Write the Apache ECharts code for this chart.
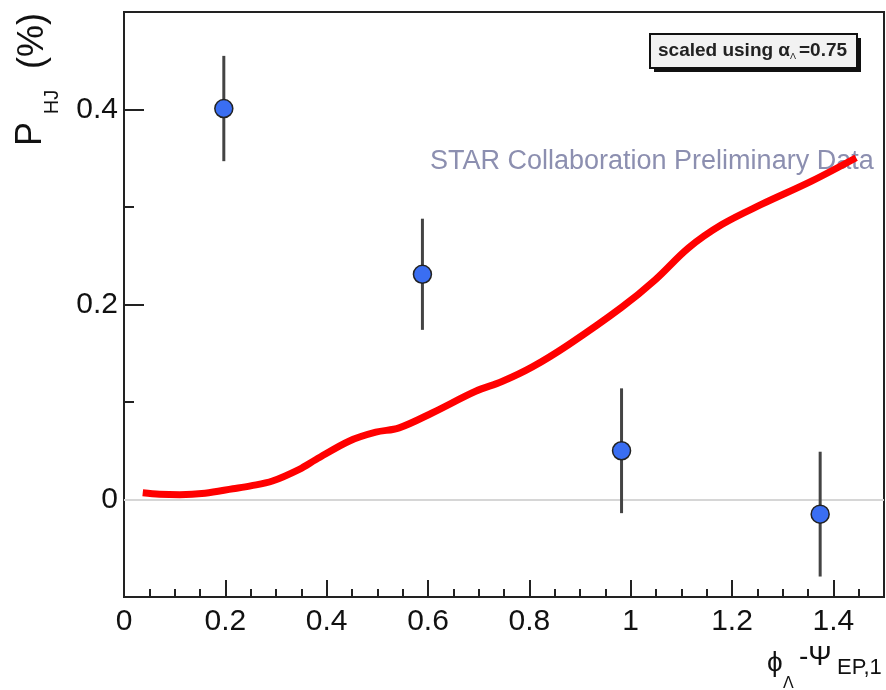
<!DOCTYPE html>
<html>
<head>
<meta charset="utf-8">
<script src="https://cdn.jsdelivr.net/npm/echarts@6/dist/echarts.min.js"></script>
<style>
  html, body { margin: 0; padding: 0; background: #fff; }
  #main { width: 886px; height: 690px; }
</style>
</head>
<body>
<div id="main"></div>
<script>
// measured points (x, P, error)
var ptX = [0.197, 0.589, 0.982, 1.374];
var ptY = [0.401, 0.231, 0.050, -0.015];
var ptErr = [0.054, 0.057, 0.064, 0.064];

// model curve
var curveX = [0.037, 0.07, 0.11, 0.16, 0.215, 0.25, 0.293, 0.346, 0.379, 0.445, 0.497, 0.543, 0.609, 0.694, 0.746, 0.806, 0.878, 0.982, 1.049, 1.114, 1.18, 1.258, 1.357, 1.445];
var curveY = [0.007, 0.0055, 0.005, 0.0065, 0.011, 0.014, 0.019, 0.031, 0.041, 0.060, 0.069, 0.0735, 0.089, 0.111, 0.121, 0.136, 0.159, 0.197, 0.2256, 0.258, 0.282, 0.3026, 0.3265, 0.3505];

// tick labels
var xLabels = [0, 0.2, 0.4, 0.6, 0.8, 1, 1.2, 1.4];
var yLabels = [0, 0.2, 0.4];
var yMinor = [0.1, 0.3];

var font = 'Liberation Sans, Arial, sans-serif';

var pointData = ptX.map(function (x, i) { return [x, ptY[i]]; });
var errData = ptX.map(function (x, i) { return [x, ptY[i], ptErr[i]]; });
var curveData = curveX.map(function (x, i) { return [x, curveY[i]]; });

var chart = echarts.init(document.getElementById('main'));

var option = {
  animation: false,
  backgroundColor: '#fff',
  grid: {
    left: 124,
    right: 2,
    top: 12,
    bottom: 93,
    show: true,
    borderColor: '#222',
    borderWidth: 2
  },
  xAxis: [
    {
      type: 'value',
      min: 0,
      max: 1.5,
      interval: 0.05,
      position: 'bottom',
      axisLine: { show: true, onZero: false, lineStyle: { color: '#222', width: 2 } },
      axisTick: { show: true, inside: true, length: 8, lineStyle: { color: '#222', width: 2 } },
      axisLabel: {
        customValues: xLabels,
        color: '#111',
        fontSize: 30,
        fontFamily: font,
        margin: 10
      },
      splitLine: { show: false }
    },
    {
      type: 'value',
      min: 0,
      max: 1.5,
      position: 'bottom',
      axisLine: { show: false, onZero: false },
      axisTick: { show: true, inside: true, length: 17, customValues: xLabels, lineStyle: { color: '#222', width: 2 } },
      axisLabel: { show: false },
      splitLine: { show: false }
    }
  ],
  yAxis: [
    {
      type: 'value',
      min: -0.1,
      max: 0.5,
      position: 'left',
      axisLine: { show: true, onZero: false, lineStyle: { color: '#222', width: 2 } },
      axisTick: { show: true, inside: true, length: 20, customValues: yLabels, lineStyle: { color: '#222', width: 2 } },
      axisLabel: {
        customValues: yLabels,
        color: '#111',
        fontSize: 30,
        fontFamily: font,
        margin: 6
      },
      splitLine: { show: false }
    },
    {
      type: 'value',
      min: -0.1,
      max: 0.5,
      position: 'left',
      axisLine: { show: false, onZero: false },
      axisTick: { show: true, inside: true, length: 10, customValues: yMinor, lineStyle: { color: '#222', width: 2 } },
      axisLabel: { show: false },
      splitLine: { show: false }
    }
  ],
  series: [
    {
      name: 'curve',
      type: 'line',
      data: curveData,
      smooth: 0.35,
      showSymbol: false,
      z: 3,
      lineStyle: { color: '#ff0000', width: 7 },
      markLine: {
        silent: true,
        symbol: 'none',
        label: { show: false },
        z: 1,
        lineStyle: { color: '#d6d6d6', width: 2, type: 'solid' },
        data: [{ yAxis: 0 }]
      }
    },
    {
      name: 'errors',
      type: 'custom',
      data: errData,
      encode: { x: 0, y: 1 },
      z: 4,
      renderItem: function (params, api) {
        var x = api.value(0), y = api.value(1), e = api.value(2);
        var p1 = api.coord([x, y + e]);
        var p2 = api.coord([x, y - e]);
        return {
          type: 'line',
          shape: { x1: p1[0], y1: p1[1], x2: p2[0], y2: p2[1] },
          style: { stroke: '#444', lineWidth: 3 }
        };
      }
    },
    {
      name: 'data',
      type: 'scatter',
      data: pointData,
      symbol: 'circle',
      symbolSize: 18,
      z: 5,
      itemStyle: { color: '#3a6ef2', borderColor: '#222', borderWidth: 1.5, opacity: 1 }
    }
  ],
  graphic: [
    // y title
    { type: 'text', x: 31, y: 134, rotation: Math.PI / 2, style: { text: 'P', font: '36px ' + font, fill: '#111', align: 'center', verticalAlign: 'middle' } },
    { type: 'text', x: 52, y: 102, rotation: Math.PI / 2, style: { text: 'HJ', font: '20px ' + font, fill: '#111', align: 'center', verticalAlign: 'middle' } },
    { type: 'text', x: 33, y: 41, rotation: Math.PI / 2, style: { text: '(%)', font: '36px ' + font, fill: '#111', align: 'center', verticalAlign: 'middle' } },
    // x title
    { type: 'text', x: 767, y: 663, style: { text: 'ϕ', font: '28px ' + font, fill: '#111', align: 'left', verticalAlign: 'middle' } },
    { type: 'text', x: 783, y: 684, style: { text: 'Λ', font: '16px ' + font, fill: '#111', align: 'left', verticalAlign: 'middle' } },
    { type: 'text', x: 799, y: 657, style: { text: '-Ψ', font: '28px ' + font, fill: '#111', align: 'left', verticalAlign: 'middle' } },
    { type: 'text', x: 837, y: 668, style: { text: 'EP,1', font: '22px ' + font, fill: '#111', align: 'left', verticalAlign: 'middle' } },
    // legend box
    { type: 'rect', shape: { x: 654, y: 38, width: 207, height: 34 }, style: { fill: '#111' }, z: 10 },
    { type: 'rect', shape: { x: 650, y: 34, width: 207, height: 34 }, style: { fill: '#f2f2f2', stroke: '#111', lineWidth: 2 }, z: 11 },
    { type: 'text', x: 658, y: 51, z: 12, style: { text: 'scaled using α', font: 'bold 19px ' + font, fill: '#222', align: 'left', verticalAlign: 'middle' } },
    { type: 'text', x: 790, y: 57, z: 12, style: { text: 'Λ', font: '9px ' + font, fill: '#222', align: 'left', verticalAlign: 'middle' } },
    { type: 'text', x: 799, y: 51, z: 12, style: { text: '=0.75', font: 'bold 19px ' + font, fill: '#222', align: 'left', verticalAlign: 'middle' } },
    // watermark
    { type: 'text', x: 430, y: 162, z: 2, style: { text: 'STAR Collaboration Preliminary Data', font: '27px ' + font, fill: '#8c8fb0', align: 'left', verticalAlign: 'middle' } }
  ]
};

chart.setOption(option);
</script>
</body>
</html>
